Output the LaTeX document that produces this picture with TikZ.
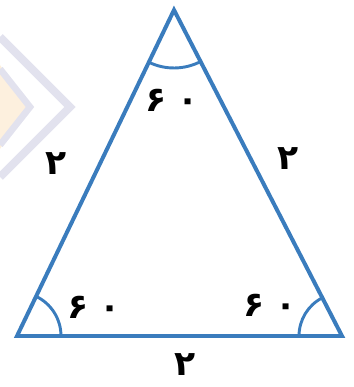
\documentclass[tikz,border=0pt]{standalone}
\usepackage{fontspec}
\newfontfamily\persianfont[Script=Arabic]{DejaVu Sans}
\definecolor{triblue}{RGB}{58,124,189}
\definecolor{wmline}{RGB}{226,226,238}
\definecolor{wmfill}{RGB}{253,240,222}
\tikzset{
  side/.style={triblue,line width=3pt},
  angarc/.style={triblue,line width=2.2pt},
  num/.style={font=\persianfont\bfseries\fontsize{26}{30}\selectfont,text=black,inner sep=0pt},
}
\begin{document}
    \begin{tikzpicture}[x=0.02646cm,y=0.02646cm]
        \useasboundingbox (0,0) rectangle (354,387);
        \fill[wmfill] (0,322)--(28,280)--(0,238)--cycle; %watermark
        \draw[wmline,line width=6pt] (0,350)--(70,280)--(0,210);
        \draw[wmline,line width=5pt] (0,318)--(30,280)--(0,242);
        \coordinate (A) at (174,377); %top
        \coordinate (B) at (17,51); %left
        \coordinate (C) at (342,51); %right
        \draw[side] (A)--(B)--(C)--cycle;
        \draw[angarc] (A) ++(244.3:58) arc (244.3:297.3:58);
        \draw[angarc] (B) ++(0:44) arc (0:64.3:44);
        \draw[angarc] (C) ++(117.3:43) arc (117.3:180:43);
        \node[num] (aA) at (172,287) {۶\,\,۰};
        \node[num] (aB) at (94,80) {۶\,\,۰};
        \node[num] (aC) at (270,82) {۶\,\,۰};
        \node[num] (sAB) at (56,223) {۲};
        \node[num] (sAC) at (288,228) {۲};
        \node[num] (sBC) at (185,22) {۲};
    \end{tikzpicture}
\end{document}
